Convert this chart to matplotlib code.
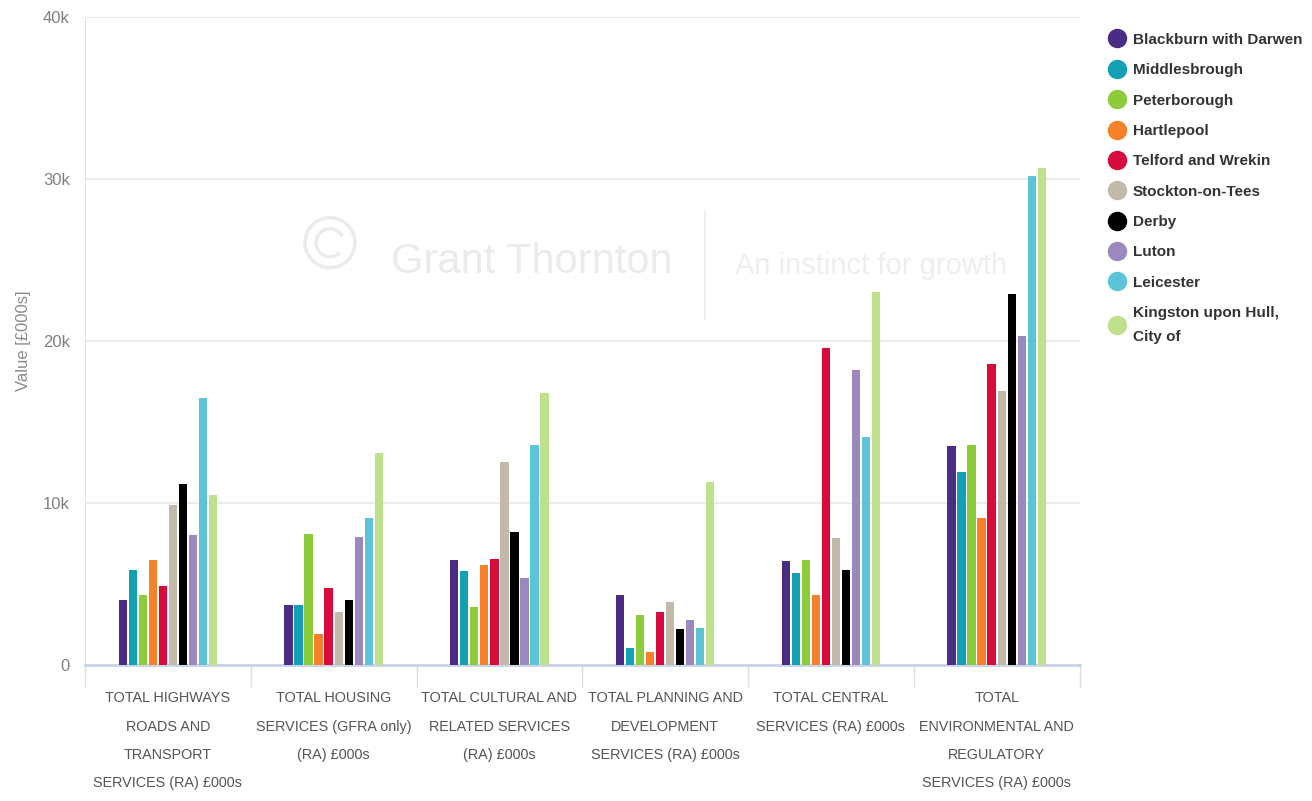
import matplotlib
matplotlib.use("Agg")
import matplotlib.pyplot as plt
from matplotlib.lines import Line2D
from matplotlib.patches import Ellipse, Arc
from matplotlib.ticker import FuncFormatter
import numpy as np

categories = [
    "TOTAL HIGHWAYS\nROADS AND\nTRANSPORT\nSERVICES (RA) £000s",
    "TOTAL HOUSING\nSERVICES (GFRA only)\n(RA) £000s",
    "TOTAL CULTURAL AND\nRELATED SERVICES\n(RA) £000s",
    "TOTAL PLANNING AND\nDEVELOPMENT\nSERVICES (RA) £000s",
    "TOTAL CENTRAL\nSERVICES (RA) £000s",
    "TOTAL\nENVIRONMENTAL AND\nREGULATORY\nSERVICES (RA) £000s",
]

authorities = [
    "Blackburn with Darwen", "Middlesbrough", "Peterborough", "Hartlepool",
    "Telford and Wrekin", "Stockton-on-Tees", "Derby", "Luton", "Leicester",
    "Kingston upon Hull,\nCity of",
]
colors = ["#4b2c85", "#12a0b2", "#8ccc3a", "#f5822a", "#d80c3c",
          "#c2b9ab", "#000000", "#9b89bd", "#5cc4d6", "#bfe08c"]

blackburn = [4000, 3700, 6450, 4300, 6400, 13500]
middlesbrough = [5850, 3700, 5800, 1070, 5700, 11900]
peterborough = [4350, 8100, 3600, 3100, 6500, 13600]
hartlepool = [6500, 1900, 6150, 800, 4350, 9100]
telford = [4900, 4780, 6550, 3250, 19550, 18600]
stockton = [9900, 3270, 12500, 3900, 7850, 16900]
derby = [11200, 4000, 8200, 2200, 5850, 22900]
luton = [8000, 7900, 5400, 2800, 18200, 20300]
leicester = [16500, 9100, 13600, 2300, 14050, 30200]
hull = [10500, 13100, 16800, 11300, 23000, 30700]

series = [blackburn, middlesbrough, peterborough, hartlepool, telford,
          stockton, derby, luton, leicester, hull]

plt.rcParams["font.family"] = ["Liberation Sans", "DejaVu Sans"]

fig = plt.figure(figsize=(13.12, 8.01), dpi=100)
ax = fig.add_axes([0.0648, 0.1698, 0.758, 0.809])

x = np.arange(len(categories))
n = len(series)
step = 0.0605
width = 0.05
for i, (vals, c) in enumerate(zip(series, colors)):
    ax.bar(x + (i - (n - 1) / 2) * step, vals, width, color=c, zorder=3)

ax.set_xlim(-0.5, len(categories) - 0.5)
ax.set_ylim(0, 40000)
ax.set_yticks([0, 10000, 20000, 30000, 40000])
ax.yaxis.set_major_formatter(FuncFormatter(lambda v, p: "0" if v == 0 else f"{int(v/1000)}k"))
ax.grid(axis="y", color="#e8e8e8", linewidth=1.2, zorder=0)
ax.tick_params(axis="y", length=0, labelsize=12, colors="#808080", pad=11)

ax.set_xticks(x)
ax.set_xticklabels(categories, fontsize=10.4, color="#555555", linespacing=2.3, va="top")
ax.tick_params(axis="x", length=0, pad=19)
ax.set_xticks(np.arange(len(categories) + 1) - 0.5, minor=True)
ax.tick_params(axis="x", which="minor", length=16, color="#dddddd", width=1)

for s in ["top", "right"]:
    ax.spines[s].set_visible(False)
ax.spines["left"].set_color("#dde3ee")
ax.spines["bottom"].set_color("#c8d3e8")
ax.spines["bottom"].set_linewidth(2)

ax.set_ylabel("Value [£000s]", fontsize=12, color="#8a8a8a")
ax.yaxis.set_label_coords(-0.054, 0.5)

# faint watermark
fig.text(0.405, 0.673, "Grant Thornton", fontsize=30, color="#ebebeb",
         ha="center", va="center", zorder=0)
fig.text(0.664, 0.668, "An instinct for growth", fontsize=21, color="#eeeeee",
         ha="center", va="center", zorder=0)
fig.add_artist(Line2D([0.537, 0.537], [0.6, 0.738], color="#eeeeee", lw=1.2))
fig.add_artist(Ellipse((0.2515, 0.697), 50 / 1312, 50 / 801, transform=fig.transFigure,
                       fill=False, ec="#ebebeb", lw=2.5))
fig.add_artist(Arc((0.2515, 0.697), 28 / 1312, 28 / 801, theta1=40, theta2=300,
                   transform=fig.transFigure, ec="#ebebeb", lw=2.5))

handles = [Line2D([], [], marker="o", linestyle="", markersize=13,
                  markerfacecolor=c, markeredgecolor=c) for c in colors]
leg = fig.legend(handles, authorities, loc="upper left",
                 bbox_to_anchor=(0.844, 0.959), frameon=False,
                 borderpad=0, borderaxespad=0,
                 handletextpad=0.4, labelspacing=1.07, handlelength=1.25,
                 prop={"size": 11, "weight": "bold"})
for t in leg.get_texts():
    t.set_color("#333333")
    t.set_linespacing(1.9)

fig.savefig("out.png", dpi=100)
